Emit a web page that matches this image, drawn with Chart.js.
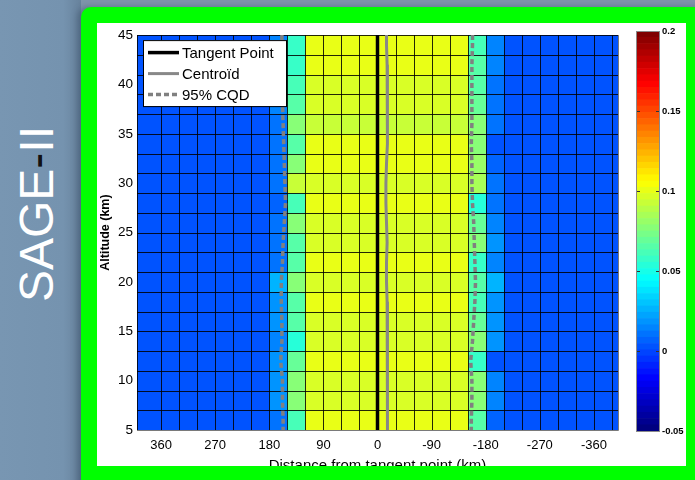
<!DOCTYPE html>
<html>
<head>
<meta charset="utf-8">
<script src="https://cdn.jsdelivr.net/npm/chart.js@4.4.1/dist/chart.umd.min.js"></script>
<style>
  html, body { margin: 0; padding: 0; }
  body { width: 695px; height: 480px; overflow: hidden; position: relative; background: #7f95ab; font-family: "Liberation Sans", Arial, sans-serif; }
  #side { position: absolute; left: 0; top: 0; width: 81px; height: 480px; background: linear-gradient(to right, #7896b2 0%, #7593af 78%, #67829c 100%); }
  #title { position: absolute; left: 37px; top: 214px; transform: translate(-50%, -50%) rotate(-90deg); color: #fff; font-size: 48px; line-height: 48px; white-space: nowrap; }
  #title span { color: #111; }
  #frame { position: absolute; left: 81px; top: 7px; width: 640px; height: 500px; background: #00ff00; border-radius: 10px; box-shadow: -4px 0 6px rgba(50, 70, 95, 0.45); }
  #panel { position: absolute; left: 97px; top: 23px; width: 589px; height: 443px; background: #fff; overflow: hidden; }
  #main { position: absolute; left: 0; top: 0; }
  #cb { position: absolute; left: 539px; top: 0; }
</style>
</head>
<body>
<div id="side"></div>
<div id="title">SAGE<span>-</span>II</div>
<div id="frame"></div>
<div id="panel">
  <canvas id="main" width="589" height="460"></canvas>
  <canvas id="cb" width="56" height="430"></canvas>
</div>
<script>
// grid of the field: column edges (km) and row centres (km), rows listed top to bottom
const colEdges = [400, 360, 330, 300, 270, 240, 210, 180, 150, 120, 90, 60, 30, 0,
  -30, -60, -90, -120, -150, -180, -210, -240, -270, -300, -330, -360, -390, -400];
const rowAlt = [44, 42, 40, 38, 36, 34, 32, 30, 28, 26, 24, 22, 20, 18, 16, 14, 12, 10, 8, 6];
const rowHalf = 1;

// values, one per row (top to bottom)
const outerValue = 0.001;
const band180to150 = [0.014, 0.014, 0.014, 0.014, 0.009, 0.011, 0.009, 0.011, 0.006, 0.011,
  0.009, 0.011, 0.026, 0.019, 0.019, 0.016, 0.019, 0.019, 0.019, 0.011];
const band150to120 = [0.059, 0.059, 0.063, 0.067, 0.075, 0.067, 0.075, 0.091, 0.063, 0.075,
  0.067, 0.067, 0.075, 0.067, 0.067, 0.052, 0.071, 0.075, 0.075, 0.063];
const centreBand = [0.099, 0.099, 0.095, 0.095, 0.093, 0.099, 0.099, 0.095, 0.099, 0.095,
  0.095, 0.099, 0.097, 0.099, 0.095, 0.095, 0.099, 0.095, 0.095, 0.099];
const bandM150toM180 = [0.063, 0.067, 0.067, 0.071, 0.075, 0.075, 0.079, 0.083, 0.052, 0.071,
  0.075, 0.059, 0.067, 0.063, 0.071, 0.075, 0.059, 0.075, 0.075, 0.067];
const bandM180toM210 = [0.014, 0.014, 0.011, 0.011, 0.009, 0.003, 0.006, 0.011, 0.011, 0.016,
  0.019, 0.014, 0.027, 0.019, 0.019, 0.019, 0.003, 0.016, 0.016, 0.006];
// which profile each column uses
const colBand = ['o', 'o', 'o', 'o', 'o', 'o', 'o', 'a', 'b', 'c', 'c', 'c', 'c', 'c',
  'c', 'c', 'c', 'c', 'd', 'e', 'o', 'o', 'o', 'o', 'o', 'o', 'o'];

// line profiles
const lineAlt = [45, 44, 42, 40, 38, 36, 34, 32, 30, 28, 26, 24, 22, 20, 18, 16, 14, 12, 10, 8, 6, 5];
const tangentKm = [0, 0, 0, 0, 0, 0, 0, 0, 0, 0, 0, 0, 0, 0, 0, 0, 0, 0, 0, 0, 0, 0];
const centroidKm = [-15, -15, -16, -17, -17, -16, -16, -15, -14, -14, -15, -16, -15, -15,
  -16, -17, -17, -16, -17, -17, -16, -16];
const cqdLeftKm = [159, 159, 158, 158, 158, 157, 156, 155, 154, 153, 155, 157, 158, 160,
  160, 159, 159, 161, 158, 158, 157, 157];
const cqdRightKm = [-158, -158, -157, -157, -157, -157, -156, -157, -157, -158, -160, -161,
  -162, -163, -162, -160, -158, -155, -157, -157, -156, -156];

const xTicks = [360, 270, 180, 90, 0, -90, -180, -270, -360];
const yTicks = [5, 10, 15, 20, 25, 30, 35, 40, 45];
const cbTicks = [-0.05, 0, 0.05, 0.1, 0.15, 0.2];
const cbLabels = ['-0.05', '0', '0.05', '0.1', '0.15', '0.2'];
const cMin = -0.05, cMax = 0.2, nLevels = 64;

const bands = { a: band180to150, b: band150to120, c: centreBand, d: bandM150toM180, e: bandM180toM210 };

function clamp01(v) { return Math.max(0, Math.min(1, v)); }
function jetLevel(i) {
  const t = i / (nLevels - 1);
  const r = clamp01(1.5 - Math.abs(4 * t - 3));
  const g = clamp01(1.5 - Math.abs(4 * t - 2));
  const b = clamp01(1.5 - Math.abs(4 * t - 1));
  return `rgb(${Math.round(r * 255)},${Math.round(g * 255)},${Math.round(b * 255)})`;
}
function jet(v) {
  let i = Math.floor((v - cMin) / (cMax - cMin) * nLevels);
  return jetLevel(Math.max(0, Math.min(nLevels - 1, i)));
}
function cellValue(r, c) {
  const k = colBand[c];
  return k === 'o' ? outerValue : bands[k][r];
}

const cellPlugin = {
  id: 'cells',
  beforeDatasetsDraw(chart) {
    const { ctx, chartArea: a, scales: { x, y } } = chart;
    ctx.save();
    ctx.beginPath();
    ctx.rect(a.left, a.top, a.right - a.left, a.bottom - a.top);
    ctx.clip();
    rowAlt.forEach((alt, r) => {
      const y0 = Math.round(y.getPixelForValue(alt + rowHalf));
      const y1 = Math.round(y.getPixelForValue(alt - rowHalf));
      for (let c = 0; c < colEdges.length - 1; c++) {
        const x0 = Math.round(x.getPixelForValue(colEdges[c]));
        const x1 = Math.round(x.getPixelForValue(colEdges[c + 1]));
        ctx.fillStyle = jet(cellValue(r, c));
        ctx.fillRect(x0, y0, x1 - x0, y1 - y0);
      }
    });
    ctx.strokeStyle = 'rgba(0,0,0,0.85)';
    ctx.lineWidth = 1;
    ctx.beginPath();
    colEdges.forEach(e => {
      const px = Math.round(x.getPixelForValue(e)) + 0.5;
      ctx.moveTo(px, a.top); ctx.lineTo(px, a.bottom);
    });
    rowAlt.forEach(alt => {
      const py = Math.round(y.getPixelForValue(alt + rowHalf)) + 0.5;
      ctx.moveTo(a.left, py); ctx.lineTo(a.right, py);
    });
    ctx.stroke();
    ctx.restore();
    ctx.save();
    ctx.strokeStyle = '#7a7a7a';
    ctx.lineWidth = 1;
    ctx.beginPath();
    ctx.moveTo(a.left, a.bottom + 0.5); ctx.lineTo(a.right + 0.5, a.bottom + 0.5); ctx.lineTo(a.right + 0.5, a.top);
    ctx.stroke();
    ctx.restore();
  }
};

const legendPlugin = {
  id: 'boxLegend',
  afterDatasetsDraw(chart) {
    const { ctx, chartArea: a } = chart;
    const bx = a.left + 6, by = a.top + 5, bw = 143, bh = 66;
    ctx.save();
    ctx.fillStyle = '#fff';
    ctx.fillRect(bx, by, bw, bh);
    ctx.strokeStyle = '#000';
    ctx.lineWidth = 1;
    ctx.strokeRect(bx + 0.5, by + 0.5, bw, bh);
    const seen = [];
    let row = 0;
    chart.data.datasets.forEach(ds => {
      if (seen.includes(ds.label)) return;
      seen.push(ds.label);
      const cy = by + 12.5 + row * 21;
      ctx.strokeStyle = ds.borderColor;
      ctx.lineWidth = ds.borderWidth;
      ctx.setLineDash(ds.borderDash || []);
      ctx.beginPath();
      ctx.moveTo(bx + 5, cy); ctx.lineTo(bx + 36, cy);
      ctx.stroke();
      ctx.setLineDash([]);
      ctx.fillStyle = '#000';
      ctx.font = '15px "Liberation Sans", Arial, sans-serif';
      ctx.textBaseline = 'middle';
      ctx.fillText(ds.label, bx + 39, cy + 1);
      row++;
    });
    ctx.restore();
  }
};

const pts = (xs) => xs.map((v, i) => ({ x: v, y: lineAlt[i] }));

new Chart(document.getElementById('main'), {
  type: 'line',
  data: {
    datasets: [
      { label: 'Tangent Point', data: pts(tangentKm), borderColor: '#000', borderWidth: 3.5 },
      { label: 'Centroïd', data: pts(centroidKm), borderColor: '#888', borderWidth: 3 },
      { label: '95% CQD', data: pts(cqdLeftKm), borderColor: '#808080', borderWidth: 3.5, borderDash: [5, 3] },
      { label: '95% CQD', data: pts(cqdRightKm), borderColor: '#808080', borderWidth: 3.5, borderDash: [5, 3] }
    ]
  },
  options: {
    responsive: false,
    animation: false,
    layout: { padding: { left: 0, top: 8, right: 68, bottom: 0 } },
    elements: { point: { radius: 0 }, line: { tension: 0, fill: false } },
    plugins: { legend: { display: false }, tooltip: { enabled: false } },
    scales: {
      x: {
        type: 'linear', reverse: true, min: -400, max: 400,
        afterBuildTicks: s => { s.ticks = xTicks.map(v => ({ value: v })); },
        afterFit: s => { s.height = 53; },
        grid: { display: false, drawTicks: false },
        border: { display: false },
        ticks: { color: '#000', font: { size: 13 }, padding: 8, autoSkip: false, maxRotation: 0, callback: v => String(v) },
        title: { display: true, text: 'Distance from tangent point (km)', color: '#000', font: { size: 15 }, padding: { top: 0, bottom: 8 } }
      },
      y: {
        type: 'linear', min: 5, max: 45,
        afterBuildTicks: s => { s.ticks = yTicks.map(v => ({ value: v })); },
        afterFit: s => { s.width = 40; },
        grid: { display: false, drawTicks: false },
        border: { display: false },
        ticks: { color: '#000', font: { size: 13.5 }, padding: 4, callback: v => String(v) },
        title: { display: true, text: 'Altitude (km)', color: '#000', font: { size: 12.5, weight: 'bold' }, padding: { top: 1, bottom: 0 } }
      }
    }
  },
  plugins: [cellPlugin, legendPlugin]
});

// colour bar
const cbStep = (cMax - cMin) / nLevels;
const cbSets = [];
for (let i = 0; i < nLevels; i++) {
  cbSets.push({ data: [[cMin + i * cbStep, cMin + (i + 1) * cbStep]], backgroundColor: jetLevel(i), borderWidth: 0, grouped: false, barPercentage: 1, categoryPercentage: 1 });
}
const cbFrame = {
  id: 'cbFrame',
  afterDatasetsDraw(chart) {
    const { ctx, chartArea: a, scales: { y } } = chart;
    ctx.save();
    ctx.strokeStyle = '#333';
    ctx.lineWidth = 1;
    ctx.beginPath();
    cbTicks.forEach(v => {
      const py = Math.round(y.getPixelForValue(v)) + 0.5;
      ctx.moveTo(a.left, py); ctx.lineTo(a.left + 4, py);
      ctx.moveTo(a.right - 4, py); ctx.lineTo(a.right, py);
    });
    ctx.stroke();
    ctx.strokeStyle = '#8a8a8a';
    ctx.strokeRect(a.left + 0.5, a.top + 0.5, a.right - a.left - 1, a.bottom - a.top);
    ctx.restore();
  }
};
new Chart(document.getElementById('cb'), {
  type: 'bar',
  data: { labels: [''], datasets: cbSets },
  options: {
    responsive: false,
    animation: false,
    layout: { padding: { left: 0, top: 8, right: 0, bottom: 22 } },
    plugins: { legend: { display: false }, tooltip: { enabled: false } },
    scales: {
      x: { display: false },
      y: {
        position: 'right', min: cMin, max: cMax,
        afterBuildTicks: s => { s.ticks = cbTicks.map(v => ({ value: v })); },
        afterFit: s => { s.width = 32; },
        grid: { display: false, drawTicks: false },
        border: { display: false },
        ticks: { color: '#000', font: { size: 9.5, weight: 'bold' }, padding: 2, callback: (v, i) => cbLabels[i] }
      }
    }
  },
  plugins: [cbFrame]
});
</script>
</body>
</html>
